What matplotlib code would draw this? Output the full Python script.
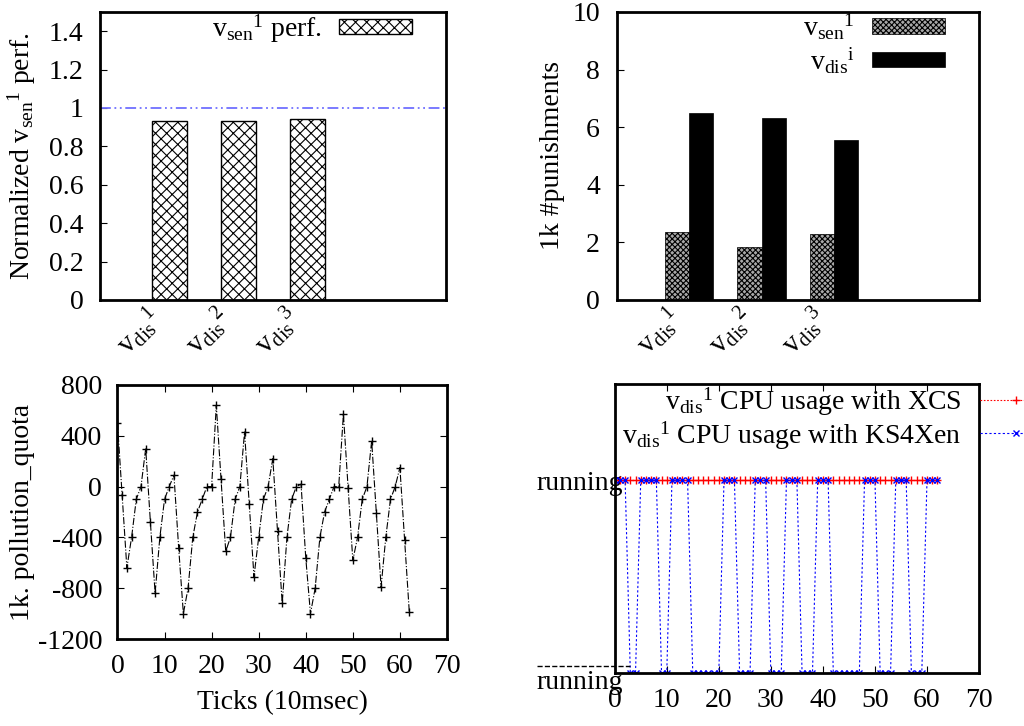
import matplotlib
matplotlib.use('Agg')
import matplotlib.pyplot as plt
from matplotlib.transforms import ScaledTranslation

plt.rcParams['font.family'] = ['Liberation Serif', 'DejaVu Serif']
plt.rcParams['mathtext.fontset'] = 'custom'
plt.rcParams['mathtext.rm'] = 'Liberation Serif'
plt.rcParams['mathtext.it'] = 'Liberation Serif:italic'
plt.rcParams['axes.unicode_minus'] = False
plt.rcParams['font.size'] = 20
plt.rcParams['hatch.linewidth'] = 0.8

# Dados - graficos de barras
grupos = [1, 2, 3]
rotulos_vm = [r'$\mathrm{v}_{\mathrm{dis}}{}^{1}$',
              r'$\mathrm{v}_{\mathrm{dis}}{}^{2}$',
              r'$\mathrm{v}_{\mathrm{dis}}{}^{3}$']
perf_sen = [0.934, 0.933, 0.943]
pun_sen = [2.35, 1.85, 2.28]
pun_dis = [6.50, 6.33, 5.55]
perf_yticks = [0, 0.2, 0.4, 0.6, 0.8, 1, 1.2, 1.4]
perf_ylabels = ['0', '0.2', '0.4', '0.6', '0.8', '1', '1.2', '1.4']

# Dados - pollution quota por tick
ticks = list(range(63))
quota = [500, -70, -640, -400, -100, 0, 300, -280, -840, -400,
         -100, 0, 90, -480, -1000, -800, -400, -200, -100, 0,
         0, 640, 60, -510, -400, -100, 0, 430, -140, -710,
         -400, -100, 0, 220, -350, -920, -400, -100, 0, 20,
         -560, -1000, -800, -400, -200, -100, 0, 0, 570, -10,
         -580, -400, -100, 0, 360, -210, -790, -400, -100, 0,
         150, -420, -990]

# Dados - uso de CPU (1 = running)
cpu_xcs = [1, 1, 1, 1, 1, 1, 1, 1, 1, 1, 1, 1, 1, 1, 1, 1, 1, 1, 1, 1, 1,
           1, 1, 1, 1, 1, 1, 1, 1, 1, 1, 1, 1, 1, 1, 1, 1, 1, 1, 1, 1, 1,
           1, 1, 1, 1, 1, 1, 1, 1, 1, 1, 1, 1, 1, 1, 1, 1, 1, 1, 1, 1, 1]
cpu_ks4xen = [1, 1, 1, 0, 0, 1, 1, 1, 1, 0, 0, 1, 1, 1, 1, 0, 0, 0, 0, 0, 0,
              1, 1, 1, 0, 0, 0, 1, 1, 1, 0, 0, 0, 1, 1, 1, 0, 0, 0, 1, 1, 1,
              0, 0, 0, 0, 0, 0, 1, 1, 1, 0, 0, 0, 1, 1, 1, 0, 0, 0, 1, 1, 1]
xticks = [0, 10, 20, 30, 40, 50, 60, 70]

fig = plt.figure(figsize=(10.24, 7.26), dpi=100)
ax1 = fig.add_axes([0.0977, 0.5868, 0.3379, 0.3967])
ax2 = fig.add_axes([0.6022, 0.5868, 0.3538, 0.3967])
ax3 = fig.add_axes([0.1147, 0.1198, 0.3218, 0.3499])
ax4 = fig.add_axes([0.6003, 0.0730, 0.3558, 0.3981])

for ax in [ax1, ax2, ax3, ax4]:
    for s in ax.spines.values():
        s.set_linewidth(2)

# desloca rotulos inclinados para a esquerda
desloc = ScaledTranslation(-12/100, 0, fig.dpi_scale_trans)

# Grafico 1 - performance normalizada
ax1.bar(grupos, perf_sen, 0.5, color='white', edgecolor='black', hatch='xxx',
        linewidth=1, label=r'$\mathrm{v}_{\mathrm{sen}}{}^{1}$ perf.')
ax1.axhline(1, color='#7070ff', linestyle=(0, (6, 2, 1, 2, 1, 2)), linewidth=1.3)
ax1.set_xlim(0, 5)
ax1.set_ylim(0, 1.5)
ax1.set_yticks(perf_yticks, perf_ylabels)
ax1.set_xticks(grupos, rotulos_vm, rotation=45, ha='right', va='center',
               rotation_mode='anchor', fontsize=21)
ax1.tick_params(axis='y', direction='in', length=5, pad=12)
ax1.tick_params(axis='x', length=0, pad=10)
for t in ax1.get_xticklabels():
    t.set_transform(t.get_transform() + desloc)
ax1.set_ylabel(r'Normalized $\mathrm{v}_{\mathrm{sen}}{}^{1}$ perf.')
ax1.yaxis.set_label_coords(-0.18, 0.5)
ax1.legend(loc='upper right', bbox_to_anchor=(412/1024, 1 - 12/726),
           bbox_transform=fig.transFigure, frameon=False, markerfirst=False,
           handlelength=2.63, handleheight=0.47, handletextpad=0.62,
           borderpad=0, borderaxespad=0)

# Grafico 2 - punicoes
ax2.bar([g - 0.1667 for g in grupos], pun_sen, 0.333, color='#a8a8a8',
        edgecolor='black', hatch='xxxxxx', linewidth=0.5,
        label=r'$\mathrm{v}_{\mathrm{sen}}{}^{1}$')
ax2.bar([g + 0.1667 for g in grupos], pun_dis, 0.333, color='black',
        edgecolor='black', linewidth=0.5,
        label=r'$\mathrm{v}_{\mathrm{dis}}{}^{\mathrm{i}}$')
ax2.set_xlim(0, 5)
ax2.set_ylim(0, 10)
ax2.set_yticks([0, 2, 4, 6, 8, 10])
ax2.set_xticks(grupos, rotulos_vm, rotation=45, ha='right', va='center',
               rotation_mode='anchor', fontsize=21)
ax2.tick_params(axis='y', direction='in', length=5, pad=12)
ax2.tick_params(axis='x', length=0, pad=10)
for t in ax2.get_xticklabels():
    t.set_transform(t.get_transform() + desloc)
ax2.set_ylabel('1k #punishments')
ax2.yaxis.set_label_coords(-0.143, 0.5)
ax2.legend(loc='upper right', bbox_to_anchor=(945/1024, 1 - 12/726),
           bbox_transform=fig.transFigure, frameon=False, markerfirst=False,
           handlelength=2.63, handleheight=0.5, handletextpad=0.62,
           labelspacing=0.1, borderpad=0, borderaxespad=0)

# Grafico 3 - pollution quota
ax3.plot(ticks, quota, color='black', linestyle='-.', linewidth=0.8,
         marker='+', markersize=6, markeredgewidth=1)
ax3.set_xlim(0, 70)
ax3.set_ylim(-1200, 800)
ax3.set_xticks(xticks)
ax3.set_yticks([-1200, -800, -400, 0, 400, 800])
ax3.tick_params(direction='in', length=5, pad=11, top=True, right=True)
ax3.set_xlabel('Ticks (10msec)')
ax3.set_ylabel('1k. pollution_quota')
ax3.xaxis.set_label_coords(0.5, -0.2)
ax3.yaxis.set_label_coords(-0.25, 0.5)

# Grafico 4 - uso de CPU
ax4.plot(ticks, cpu_xcs, color='red', linestyle=(0, (1.5, 1.5)), linewidth=0.8,
         marker='+', markersize=6, markeredgewidth=1,
         label=r'$\mathrm{v}_{\mathrm{dis}}{}^{1}$ CPU usage with XCS')
ax4.plot(ticks, cpu_ks4xen, color='blue', linestyle=(0, (2, 2)), linewidth=0.8,
         marker='x', markersize=4, markeredgewidth=1,
         label=r'$\mathrm{v}_{\mathrm{dis}}{}^{1}$ CPU usage with KS4Xen')
ax4.set_xlim(0, 70)
ax4.set_ylim(0, 1.5)
ax4.set_xticks(xticks)
ax4.set_yticks([0, 1], ['running', 'running'])
ax4.tick_params(axis='x', direction='in', length=5, pad=11, top=True)
ax4.tick_params(axis='y', length=0, pad=-6)
rot0 = ax4.get_yticklabels()[0]
rot0.set_transform(rot0.get_transform() +
                   ScaledTranslation(0, -6/100, fig.dpi_scale_trans))
ax4.plot([-0.213, 0.042], [0.024, 0.024], transform=ax4.transAxes, color='black',
         linestyle='--', linewidth=1, clip_on=False)
ax4.legend(loc='upper right', bbox_to_anchor=(1052/1024, 1 - 386/726),
           bbox_transform=fig.transFigure, frameon=False, markerfirst=False,
           handlelength=2.6, handletextpad=0.65, labelspacing=0.02,
           borderpad=0, borderaxespad=0)

plt.savefig('out.png', dpi=100)
